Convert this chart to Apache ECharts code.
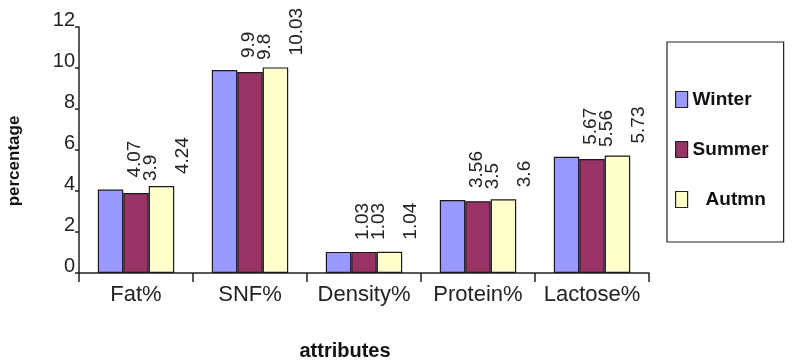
<!DOCTYPE html>
<html>
<head>
<meta charset="utf-8">
<script src="https://cdn.jsdelivr.net/npm/echarts@6/dist/echarts.min.js"></script>
<style>
    html, body { margin: 0; padding: 0; background: #fff; }
    #chartBox { width: 793px; height: 363px; }
</style>
</head>
<body>
<div id="chartBox"></div>
<script>
// milk attributes by season

var categories = ['Fat%', 'SNF%', 'Density%', 'Protein%', 'Lactose%'];
var seriesNames = ['Winter', 'Summer', 'Autmn'];
var winterData = [4.07, 9.9, 1.03, 3.56, 5.67];
var summerData = [3.9, 9.8, 1.03, 3.5, 5.56];
var autumnData = [4.24, 10.03, 1.04, 3.6, 5.73];
var yTicks = { min: 0, max: 12, interval: 2 };

var seriesColors = ['#9999ff', '#993366', '#ffffcc'];
// labels are rotated, so the 2nd offset value moves them sideways
var labelShift = [24, 15, 21];

function makeSeries(name, data, idx) {
    return {
        name: name,
        type: 'bar',
        data: data,
        barGap: '0%',
        barCategoryGap: '33%',
        itemStyle: {
            color: seriesColors[idx],
            borderColor: '#1a1a1a',
            borderWidth: 1.2
        },
        label: {
            show: true,
            position: 'top',
            rotate: 90,
            align: 'left',
            verticalAlign: 'middle',
            distance: 12,
            offset: [0, labelShift[idx]],
            fontFamily: 'Liberation Sans',
            fontSize: 19,
            color: '#222'
        }
    };
}

var option = {
    animation: false,
    backgroundColor: '#fff',
    grid: {
        left: 79,
        right: 144,
        top: 27,
        bottom: 90,
        containLabel: false,
        outerBoundsMode: 'none'
    },
    legend: {
        data: seriesNames,
        orient: 'vertical',
        left: 667,
        top: 42,
        itemWidth: 12,
        itemHeight: 16,
        itemGap: 31,
        itemTextGap: 8,
        padding: [48, 15, 33, 8],
        borderColor: '#222',
        borderWidth: 1.2,
        icon: 'rect',
        itemStyle: {
            borderColor: '#222',
            borderWidth: 1.2
        },
        formatter: function (name) {
            // last entry sits indented in the original
            return name === 'Autmn' ? '{ind|' + name + '}' : name;
        },
        textStyle: {
            fontFamily: 'Liberation Sans',
            fontWeight: 'bold',
            fontSize: 19,
            color: '#111',
            rich: {
                ind: {
                    fontFamily: 'Liberation Sans',
                    fontWeight: 'bold',
                    fontSize: 19,
                    color: '#111',
                    padding: [0, 0, 0, 13]
                }
            }
        }
    },
    xAxis: {
        type: 'category',
        data: categories,
        name: 'attributes',
        nameLocation: 'middle',
        nameGap: 68,
        nameTextStyle: {
            fontFamily: 'Liberation Sans',
            fontWeight: 'bold',
            fontSize: 20,
            color: '#111',
            padding: [0, 38, 0, 0]
        },
        axisLine: { lineStyle: { color: '#222', width: 1.5 } },
        axisTick: { show: true, length: 9, lineStyle: { color: '#222', width: 1.5 } },
        axisLabel: {
            interval: 0,
            hideOverlap: false,
            margin: 11,
            fontFamily: 'Liberation Sans',
            fontSize: 22,
            color: '#222'
        },
        splitLine: { show: false }
    },
    yAxis: {
        type: 'value',
        min: yTicks.min,
        max: yTicks.max,
        interval: yTicks.interval,
        name: 'percentage',
        nameLocation: 'middle',
        nameGap: 56,
        nameTextStyle: {
            fontFamily: 'Liberation Sans',
            fontWeight: 'bold',
            fontSize: 17,
            color: '#111',
            padding: [0, 0, 0, -22]
        },
        axisLine: { show: true, lineStyle: { color: '#222', width: 1.5 } },
        axisTick: { show: true, length: 4, lineStyle: { color: '#222', width: 1.5 } },
        axisLabel: {
            margin: 4,
            verticalAlign: 'bottom',
            lineHeight: 14,
            fontFamily: 'Liberation Sans',
            fontSize: 20,
            color: '#222'
        },
        splitLine: { show: false }
    },
    series: [
        makeSeries(seriesNames[0], winterData, 0),
        makeSeries(seriesNames[1], summerData, 1),
        makeSeries(seriesNames[2], autumnData, 2)
    ]
};

var myChart = echarts.init(document.getElementById('chartBox'));
myChart.setOption(option);
</script>
</body>
</html>
